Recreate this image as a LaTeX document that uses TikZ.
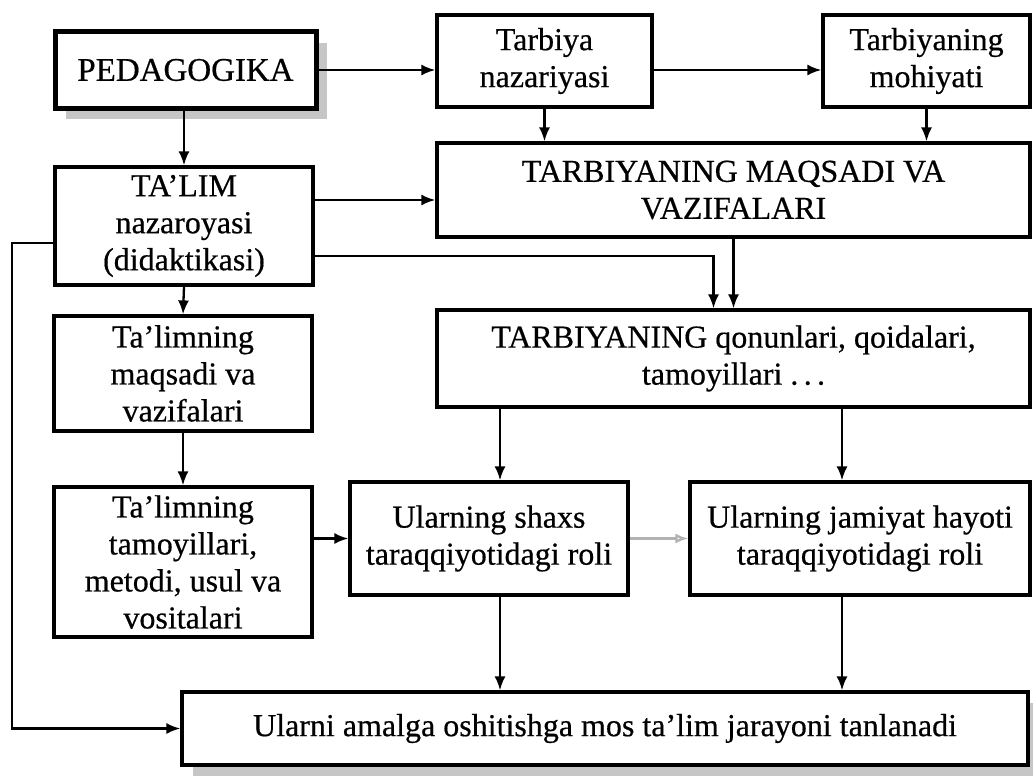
\documentclass[tikz,border=0pt]{standalone}
\usepackage{fontspec}
\setmainfont{Liberation Serif}[FakeBold=0.5]
\usetikzlibrary{arrows.meta,shadows}
\begin{document}
\begin{tikzpicture}[x=1pt,y=-1pt,
  box/.style={draw, fill=white, line width=3.2pt, align=center, inner sep=0pt,
    font=\fontsize{32}{37}\selectfont},
  shadowed/.style={drop shadow={shadow xshift=11pt, shadow yshift=-11pt, fill=gray!45, opacity=1}},
  arr/.style={line width=2.3pt, -{Latex[length=14pt,width=11pt]}},
  garr/.style={line width=2.3pt, draw=gray!60, -{Latex[open,length=13pt,width=10pt]}}]
\useasboundingbox (0,0) rectangle (1033,776);

% nodes
\node[box, shadowed, line width=5pt, minimum width=261pt, minimum height=76pt, font=\fontsize{33}{38}\selectfont] (ped) at (185.5,70) {PEDAGOGIKA};
\node[box, minimum width=215pt, minimum height=92pt] (tn) at (544.5,61) {Tarbiya\\nazariyasi};
\node[box, minimum width=207pt, minimum height=92pt] (tm) at (926.5,61) {Tarbiyaning\\mohiyati};
\node[box, minimum width=593pt, minimum height=94pt] (maq) at (733.5,190) {TARBIYANING MAQSADI VA\\VAZIFALARI};
\node[box, minimum width=258pt, minimum height=118pt] (talim) at (184,226) {TA’LIM\\nazaroyasi\\(didaktikasi)};
\node[box, minimum width=593pt, minimum height=97pt] (qon) at (733.5,358.5) {TARBIYANING qonunlari, qoidalari,\\tamoyillari .\,.\,.};
\node[box, minimum width=258pt, minimum height=115pt] (tmaq) at (183,373.5) {Ta’limning\\maqsadi va\\vazifalari};
\node[box, minimum width=258pt, minimum height=150pt] (ttam) at (183,562) {Ta’limning\\tamoyillari,\\metodi, usul va\\vositalari};
\node[box, minimum width=278pt, minimum height=113pt] (shaxs) at (489,538.5) {Ularning shaxs\\taraqqiyotidagi roli};
\node[box, minimum width=340pt, minimum height=113pt] (jam) at (860,538.5) {Ularning jamiyat hayoti\\taraqqiyotidagi roli};
\node[box, shadowed, minimum width=846pt, minimum height=73pt] (bot) at (605,728.5) {Ularni amalga oshitishga mos ta’lim jarayoni tanlanadi};

% helper coordinates
\coordinate (t1) at ([yshift=26pt]talim.east);
\coordinate (t2) at ([yshift=-30pt]talim.east);
\coordinate (q1) at ([xshift=-20pt]qon.north);
\coordinate (l1) at ([yshift=-17pt]talim.west);
\coordinate (lx) at (12,0);
\coordinate (a1) at ([xshift=11pt]shaxs.north);
\coordinate (a2) at ([xshift=-18pt]jam.north);
\coordinate (a3) at ([xshift=11pt]shaxs.south);
\coordinate (a4) at ([xshift=-18pt]jam.south);

% connectors
\draw[arr] (ped.east) -- (ped.east -| tn.west);
\draw[arr] (tn.east |- ped.east) -- (tm.west |- ped.east);
\draw[arr] (tn.south) -- (tn.south |- maq.north);
\draw[arr] (tm.south) -- (tm.south |- maq.north);
\draw[arr] (ped.south -| talim.north) -- (talim.north);
\draw[arr] (t1) -- (t1 -| maq.west);
\draw[arr] (t2) -| (q1);
\draw[arr] (maq.south) -- (qon.north);
\draw[arr] (talim.south) -- (tmaq.north);
\draw[arr] (tmaq.south) -- (ttam.north);
\draw[arr] (l1) -- (l1 -| lx) |- (bot.west);
\draw[arr] (ttam.east |- shaxs.west) -- (shaxs.west);
\draw[garr] (shaxs.east) -- (jam.west);
\draw[arr] (a1 |- qon.south) -- (a1);
\draw[arr] (a2 |- qon.south) -- (a2);
\draw[arr] (a3) -- (a3 |- bot.north);
\draw[arr] (a4) -- (a4 |- bot.north);
\end{tikzpicture}
\end{document}
